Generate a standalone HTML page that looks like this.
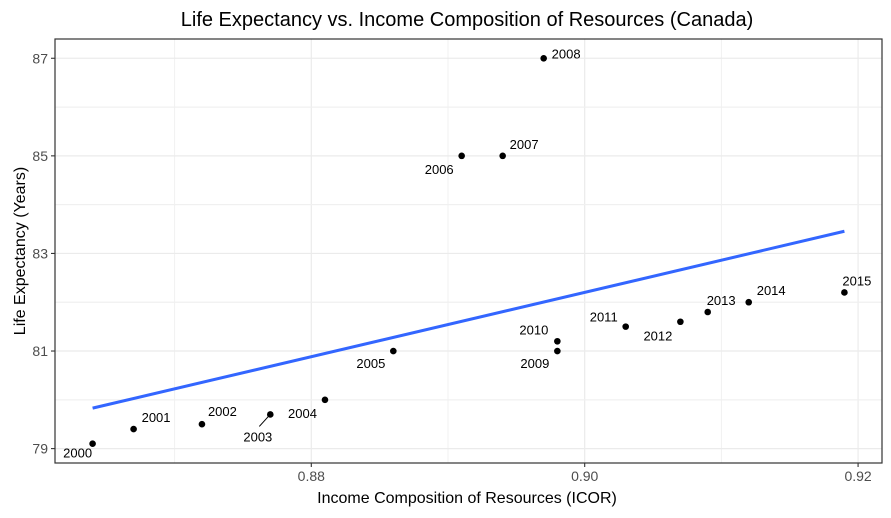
<!DOCTYPE html>
<html><head><meta charset="utf-8">
<style>
body{margin:0;background:#fff;}
svg{display:block;font-family:"Liberation Sans",Arial,sans-serif;}
</style></head>
<body>
<svg id="chart" width="891" height="518" xmlns="http://www.w3.org/2000/svg"></svg>
<script>
const years = ["2000","2001","2002","2003","2004","2005","2006","2007","2008","2009","2010","2011","2012","2013","2014","2015"];
const icor = [0.864,0.867,0.872,0.877,0.881,0.886,0.891,0.894,0.897,0.898,0.898,0.903,0.907,0.909,0.912,0.919];
const lifeExp = [79.1,79.4,79.5,79.7,80.0,81.0,85,85,87,81,81.2,81.5,81.6,81.8,82.0,82.2];
const xTicks = [0.88,0.90,0.92];
const xTickLabels = ["0.88","0.90","0.92"];
const yTicks = [79,81,83,85,87];
const yTickLabels = ["79","81","83","85","87"];

const NS="http://www.w3.org/2000/svg";
const svg=document.getElementById('chart');
const L=55,R=882,T=39,B=463;
const xmin=Math.min(...icor),xmax=Math.max(...icor),xe=(xmax-xmin)*0.05;
const ymin=Math.min(...lifeExp),ymax=Math.max(...lifeExp),ye=(ymax-ymin)*0.05;
const X=v=>L+(v-(xmin-xe))/((xmax+xe)-(xmin-xe))*(R-L);
const Y=v=>B-(v-(ymin-ye))/((ymax+ye)-(ymin-ye))*(B-T);
function el(tag,attrs,parent){const e=document.createElementNS(NS,tag);for(const k in attrs)e.setAttribute(k,attrs[k]);(parent||svg).appendChild(e);return e;}

// grid
const grid=el('g',{});


for(let i=0;i<xTicks.length;i++){
  const mv=xTicks[i]-0.01;
  if(X(mv)>L){const m=el('line',{x1:X(mv),x2:X(mv),y1:T,y2:B,stroke:'#f0f0f0','stroke-width':1},grid);}
  const g=el('line',{x1:X(xTicks[i]),x2:X(xTicks[i]),y1:T,y2:B,stroke:'#ebebeb','stroke-width':1.2},grid);
  
}
for(let i=0;i<yTicks.length;i++){
  for(const mv of [yTicks[i]-1,yTicks[i]+1]){ if(Y(mv)>T&&Y(mv)<B){const m=el('line',{x1:L,x2:R,y1:Y(mv),y2:Y(mv),stroke:'#f0f0f0','stroke-width':1},grid);}}
  const g=el('line',{x1:L,x2:R,y1:Y(yTicks[i]),y2:Y(yTicks[i]),stroke:'#ebebeb','stroke-width':1.2},grid);
  
}

// regression line
const n=icor.length;const mx=icor.reduce((a,b)=>a+b)/n,my=lifeExp.reduce((a,b)=>a+b)/n;
let sxy=0,sxx=0;for(let i=0;i<n;i++){sxy+=(icor[i]-mx)*(lifeExp[i]-my);sxx+=(icor[i]-mx)**2;}
const slope=sxy/sxx,icpt=my-slope*mx;
const reg=el('line',{x1:X(xmin),y1:Y(icpt+slope*xmin),x2:X(xmax),y2:Y(icpt+slope*xmax),stroke:'#3366FF','stroke-width':3});



// points & labels
const off=[[-15,14,'middle'],[8,-7,'start'],[6,-8,'start'],[2,27,'end'],[-8,18,'end'],[-8,17,'end'],[-8,18,'end'],[7,-7,'start'],[8,0,'start'],[-8,17,'end'],[-9,-7,'end'],[-8,-5,'end'],[-8,19,'end'],[-1,-7,'start'],[8,-7,'start'],[-2,-7,'start']];
for(let i=0;i<n;i++){
  const cx=X(icor[i]),cy=Y(lifeExp[i]);
  const c=el('circle',{cx:cx,cy:cy,r:3.3,fill:'#000'});
  
  
  if(i===3){const s=el('line',{x1:cx-1,y1:cy+1,x2:cx-11,y2:cy+12,stroke:'#000','stroke-width':1});}
  const t=el('text',{x:cx+off[i][0],y:cy+off[i][1],'font-size':13,fill:'#000','text-anchor':off[i][2]});
  t.textContent=years[i];
  
  
}

// panel border
const pb=el('rect',{x:L,y:T,width:R-L,height:B-T,fill:'none',stroke:'#333','stroke-width':1.2});



// ticks
for(let i=0;i<xTicks.length;i++){
  const x=X(xTicks[i]);
  const tk=el('line',{x1:x,x2:x,y1:B,y2:B+4,stroke:'#333','stroke-width':1.1});
  
  const t=el('text',{x:x,y:B+18,'font-size':14,fill:'#4d4d4d','text-anchor':'middle'});
  t.textContent=xTickLabels[i];
  
}
for(let i=0;i<yTicks.length;i++){
  const y=Y(yTicks[i]);
  const tk=el('line',{x1:L-4,x2:L,y1:y,y2:y,stroke:'#333','stroke-width':1.1});
  
  const t=el('text',{x:L-7,y:y+5,'font-size':14,fill:'#4d4d4d','text-anchor':'end'});
  t.textContent=yTickLabels[i];
  
}
</script>
<script>
const s2=document.getElementById('chart');
function tx(x,y,size,txt,extra){const t=document.createElementNS("http://www.w3.org/2000/svg",'text');t.setAttribute('x',x);t.setAttribute('y',y);t.setAttribute('font-size',size);t.setAttribute('fill','#000');t.setAttribute('text-anchor','middle');if(extra)t.setAttribute('transform',extra);t.textContent=txt;s2.appendChild(t);return t;}
const ti=tx(467,26,20,'Life Expectancy vs. Income Composition of Resources (Canada)');


const xt=tx(467,503,16,'Income Composition of Resources (ICOR)');


const yt=tx(0,0,16,'Life Expectancy (Years)','translate(25,251) rotate(-90)');


</script>
</body></html>
